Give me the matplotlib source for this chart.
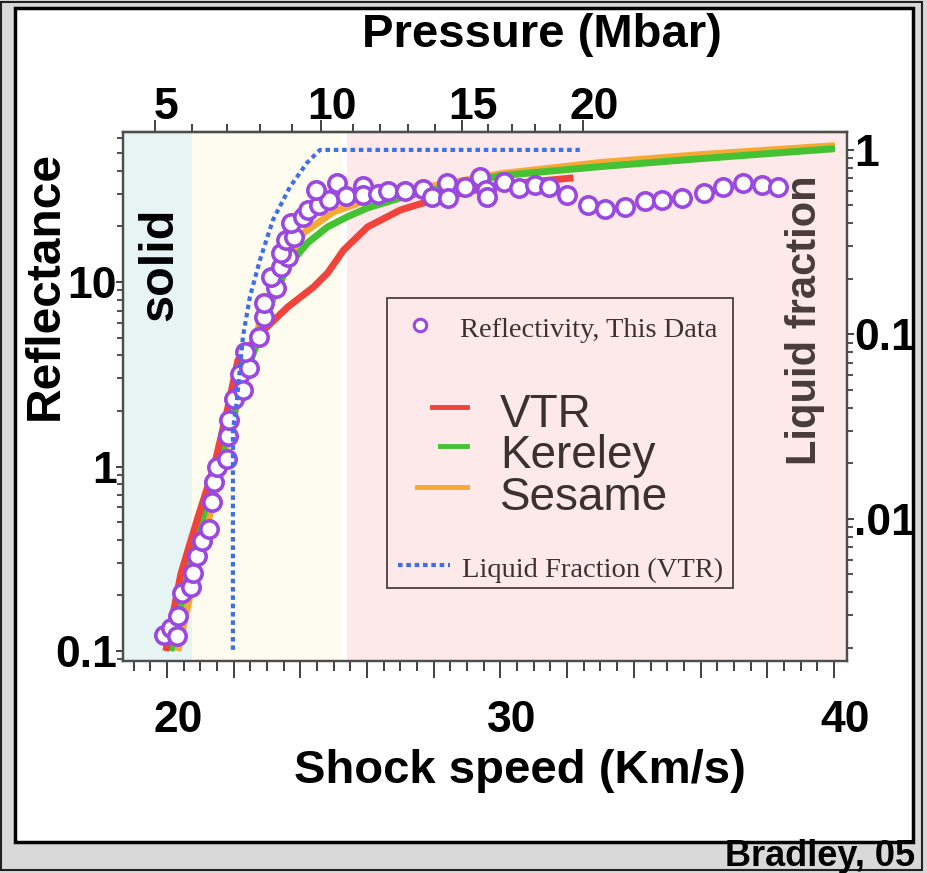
import numpy as np
import matplotlib
matplotlib.use("Agg")
import matplotlib.pyplot as plt
import matplotlib.transforms as mtransforms
from matplotlib.patches import Rectangle
from matplotlib.lines import Line2D
from matplotlib.ticker import FixedLocator, LogLocator, NullFormatter

plt.rcParams["font.family"] = ["Liberation Sans", "DejaVu Sans"]

# measured reflectivity: shock speed (km/s) vs reflectance (%)
data_speed = [19.91, 20.12, 20.33, 20.30, 20.45, 20.72, 20.78, 20.90, 21.05, 21.26,
              21.35, 21.41, 21.50, 21.80, 21.83, 21.86, 22.01, 22.19, 22.28, 22.46,
              22.34, 22.75, 22.90, 22.90, 23.26, 23.11, 23.41, 23.62, 23.41, 23.56,
              23.80, 23.71, 24.07, 24.22, 24.55, 24.85, 24.46, 25.09, 25.36, 25.87,
              25.87, 26.32, 26.62, 27.13, 27.69, 27.96, 28.41, 28.44, 28.95, 29.40,
              29.58, 29.61, 30.12, 30.57, 31.05, 31.47, 32.01, 32.63, 33.14, 33.74,
              34.34, 34.85, 35.45, 36.11, 36.68, 37.28, 37.84, 38.32]
data_refl = [0.122, 0.133, 0.155, 0.121, 0.207, 0.223, 0.265, 0.328, 0.396, 0.46,
             0.64, 0.82, 0.99, 1.10, 1.46, 1.78, 2.31, 3.16, 2.59, 3.41,
             4.17, 5.03, 6.45, 7.69, 9.28, 10.6, 12.1, 13.7, 14.4, 16.9,
             17.6, 20.9, 22.6, 24.6, 26.2, 27.9, 31.6, 34.5, 29.3, 33.2,
             29.7, 30.1, 31.2, 31.2, 32.0, 29.0, 34.5, 28.6, 32.8, 37.2,
             31.6, 29.0, 35.0, 32.4, 33.7, 32.8, 29.7, 26.2, 24.9, 25.6,
             27.6, 27.9, 28.6, 30.5, 32.8, 34.5, 33.7, 32.8]

# model curves
vtr_speed = [19.97, 20.42, 20.93, 21.41, 21.83, 22.13, 22.81, 23.62, 24.40, 24.82,
             25.30, 26.02, 27.01, 28.00, 29.01, 30.00, 32.19]
vtr_refl = [0.10, 0.262, 0.53, 0.99, 2.09, 3.77, 5.28, 7.31, 9.4, 11.2,
            14.9, 19.9, 24.6, 27.9, 30.8, 33.6, 36.7]

kerley_speed = [20.12, 20.72, 21.32, 21.77, 22.13, 22.51, 22.90, 23.20, 23.62, 24.22,
                24.82, 25.42, 26.02, 27.01, 28.00, 29.01, 30.00, 32.99, 35.99, 40.03]
kerley_refl = [0.10, 0.31, 0.77, 1.38, 2.28, 3.77, 5.69, 8.28, 12.1, 16.3,
               19.9, 22.6, 25.2, 28.6, 31.6, 34.5, 37.7, 42.2, 46.6, 52.8]

sesame_speed = [20.33, 20.72, 21.17, 21.62, 21.98, 22.37, 22.81, 23.26, 23.71, 24.10,
                25.00, 26.02, 28.00, 30.00, 32.99, 35.99, 40.03]
sesame_refl = [0.10, 0.21, 0.45, 0.95, 1.78, 3.33, 6.2, 9.9, 14.0, 18.5,
               24.0, 27.9, 33.2, 38.6, 44.4, 49.0, 54.8]

# VTR liquid fraction (right axis)
liq_speed = [21.98, 21.98, 22.10, 22.28, 22.49, 22.79, 23.18, 23.69, 24.20, 24.59, 32.38]
liq_frac = [0.00195, 0.0303, 0.044, 0.097, 0.160, 0.253, 0.417, 0.63, 0.85, 1.0, 1.0]

# pressure scale on top (Mbar) and the shock speed where each value sits
pressure_mbar = [5, 6, 7, 8, 9, 10, 11, 12, 13, 14, 15, 16, 17, 18, 19, 20]
pressure_speed = [19.64, 20.75, 21.80, 22.79, 23.75, 24.62, 25.58, 26.39, 27.23, 28.04,
                  28.85, 29.63, 30.35, 31.04, 31.79, 32.47]

# phase regions
solid_end = 20.75
mixed_end = 25.22
liquid_start = 25.40

xmin, xmax = 18.67, 40.39
ymin, ymax = 0.0883, 65.0
frac_scale = 52.0

fig = plt.figure(figsize=(9.28, 8.73), dpi=100, facecolor="#d9d9d9")
fig.add_artist(Rectangle((1 / 928, 3 / 873), 921 / 928, 868 / 873, transform=fig.transFigure,
                         facecolor="none", edgecolor="#222222", lw=1.5, zorder=-2))
fig.add_artist(Rectangle((15 / 928, 1 - 842 / 873), 898 / 928, 834 / 873, transform=fig.transFigure,
                         facecolor="white", edgecolor="black", lw=2.5, zorder=-1))

ax = fig.add_axes([122.5 / 928, 1 - 661 / 873, 724.5 / 928, 529 / 873])
ax.set_facecolor("white")
ax.axvspan(xmin, solid_end, color="#e7f4f4", lw=0, zorder=0)
ax.axvspan(solid_end, mixed_end, color="#fdfcee", lw=0, zorder=0)
ax.axvspan(liquid_start, xmax, color="#fde9e9", lw=0, zorder=0)

ax.plot(sesame_speed, sesame_refl, color="#f6a835", lw=5, solid_capstyle="butt", zorder=2)
ax.plot(kerley_speed, kerley_refl, color="#45c234", lw=5, solid_capstyle="butt", zorder=3)
ax.plot(vtr_speed, vtr_refl, color="#f0433b", lw=5, solid_capstyle="butt", zorder=4)
ax.plot(data_speed, data_refl, "o", ms=12.5, mfc="white", mec="#9a48e0", mew=2.6, zorder=5)

ax.set_xlim(xmin, xmax)
ax.set_yscale("log")
ax.set_ylim(ymin, ymax)

for s in ax.spines.values():
    s.set_color("#4d4d4d")
    s.set_linewidth(1.6)

tick_font = dict(fontsize=32, fontweight="bold")
major_x = np.arange(20, 41, 2)
ax.xaxis.set_major_locator(FixedLocator(major_x))
ax.set_xticklabels([str(v) if v % 10 == 0 else "" for v in major_x], **tick_font)
ax.xaxis.set_minor_locator(FixedLocator(np.arange(19, 40.5, 0.5)))
ax.tick_params(axis="x", which="major", direction="out", length=12, width=1.3,
               color="#333333", pad=16)
ax.tick_params(axis="x", which="minor", direction="out", length=7, width=1.3, color="#333333")
shift = mtransforms.ScaledTranslation(0.11, 0, fig.dpi_scale_trans)
for lab in ax.get_xticklabels():
    lab.set_transform(lab.get_transform() + shift)

ax.set_yticks([0.1, 1, 10], labels=["0.1", "1", "10"], **tick_font)
ax.yaxis.set_minor_locator(LogLocator(base=10, subs=np.arange(2, 10)))
ax.yaxis.set_minor_formatter(NullFormatter())
ax.tick_params(axis="y", which="major", direction="out", length=5, width=1.3,
               color="#333333", pad=-1)
ax.tick_params(axis="y", which="minor", direction="out", length=4, width=1.2, color="#333333")

# pressure axis on top
top = ax.secondary_xaxis("top", functions=(lambda x: x, lambda x: x))
major_p = [p for p in pressure_mbar if p % 5 == 0]
top.set_xticks([pressure_speed[pressure_mbar.index(p)] for p in major_p],
               labels=[str(p) for p in major_p], **tick_font)
top.xaxis.set_minor_locator(FixedLocator(pressure_speed))
top.tick_params(which="major", direction="out", length=9, width=1.3, color="#333333", pad=-6)
top.tick_params(which="minor", direction="out", length=6, width=1.3, color="#333333")
top.spines["top"].set_color("#4d4d4d")
top.spines["top"].set_linewidth(1.6)
for lab in top.get_xticklabels():
    lab.set_transform(lab.get_transform() + shift)

# liquid fraction on the right
ax2 = ax.twinx()
ax2.set_yscale("log")
ax2.set_ylim(ymin / frac_scale, ymax / frac_scale)
ax2.plot(liq_speed, liq_frac, color="#3f6fe8", lw=3, ls=(0, (1.1, 0.9)), zorder=6)
ax2.set_yticks([0.01, 0.1, 1], labels=[".01", "0.1", "1"], **tick_font)
ax2.yaxis.set_minor_locator(LogLocator(base=10, subs=np.arange(2, 10)))
ax2.yaxis.set_minor_formatter(NullFormatter())
ax2.tick_params(axis="y", which="major", direction="out", length=5, width=1.3,
                color="#333333", pad=0)
ax2.tick_params(axis="y", which="minor", direction="out", length=4, width=1.2, color="#333333")
for s in ax2.spines.values():
    s.set_color("#4d4d4d")
    s.set_linewidth(1.6)

# labels
fig.text(542 / 928, 1 - 35 / 873, "Pressure (Mbar)", fontsize=34, fontweight="bold",
         ha="center", va="center")
fig.text(520 / 928, 1 - 771 / 873, "Shock speed (Km/s)", fontsize=34, fontweight="bold",
         ha="center", va="center")
fig.text(45 / 928, 1 - 285 / 873, "Reflectance", fontsize=34.5, fontweight="bold",
         rotation=90, ha="center", va="center")
fig.text(915 / 928, 1 - 857 / 873, "Bradley, 05", fontsize=26, fontweight="bold",
         ha="right", va="center")
ax2.text(0.052, 0.749, "solid", transform=ax2.transAxes, fontsize=35, fontweight="bold",
         rotation=90, ha="center", va="center")
ax2.text(0.942, 0.645, "Liquid fraction", transform=ax2.transAxes, fontsize=30,
         fontweight="bold", color="#4a3b3b", rotation=90, ha="center", va="center")

# legend box
lt = ax2.transAxes
ax2.add_patch(Rectangle((0.365, 0.138), 0.478, 0.548, transform=lt, fill=False,
                        edgecolor="#4a4040", lw=1.3, zorder=7))
legend_color = "#3b3131"
ax2.add_line(Line2D([0.411], [0.635], transform=lt, marker="o", ms=9, mfc="white",
                    mec="#9a48e0", mew=2.2, ls="none", zorder=8))
ax2.text(0.466, 0.612, "Reflectivity, This Data", transform=lt, family="Liberation Serif",
         fontsize=20.5, color=legend_color, va="baseline", zorder=8)
ax2.add_line(Line2D([0.427, 0.476], [0.480, 0.480], transform=lt, color="#f0433b", lw=3.5, zorder=8))
ax2.add_line(Line2D([0.438, 0.476], [0.406, 0.406], transform=lt, color="#45c234", lw=3.5, zorder=8))
ax2.add_line(Line2D([0.407, 0.476], [0.329, 0.329], transform=lt, color="#f6a835", lw=3.5, zorder=8))
ax2.text(0.521, 0.442, "VTR", transform=lt, fontsize=33, color=legend_color, va="baseline", zorder=8)
ax2.text(0.521, 0.365, "Kereley", transform=lt, fontsize=33, color=legend_color, va="baseline", zorder=8)
ax2.text(0.521, 0.285, "Sesame", transform=lt, fontsize=33, color=legend_color, va="baseline", zorder=8)
ax2.add_line(Line2D([0.380, 0.452], [0.181, 0.181], transform=lt, color="#3f6fe8", lw=3,
                    ls=(0, (1.1, 0.9)), zorder=8))
ax2.text(0.469, 0.159, "Liquid Fraction (VTR)", transform=lt, family="Liberation Serif",
         fontsize=20.5, color=legend_color, va="baseline", zorder=8)

fig.savefig("out.png", dpi=100, facecolor=fig.get_facecolor())
